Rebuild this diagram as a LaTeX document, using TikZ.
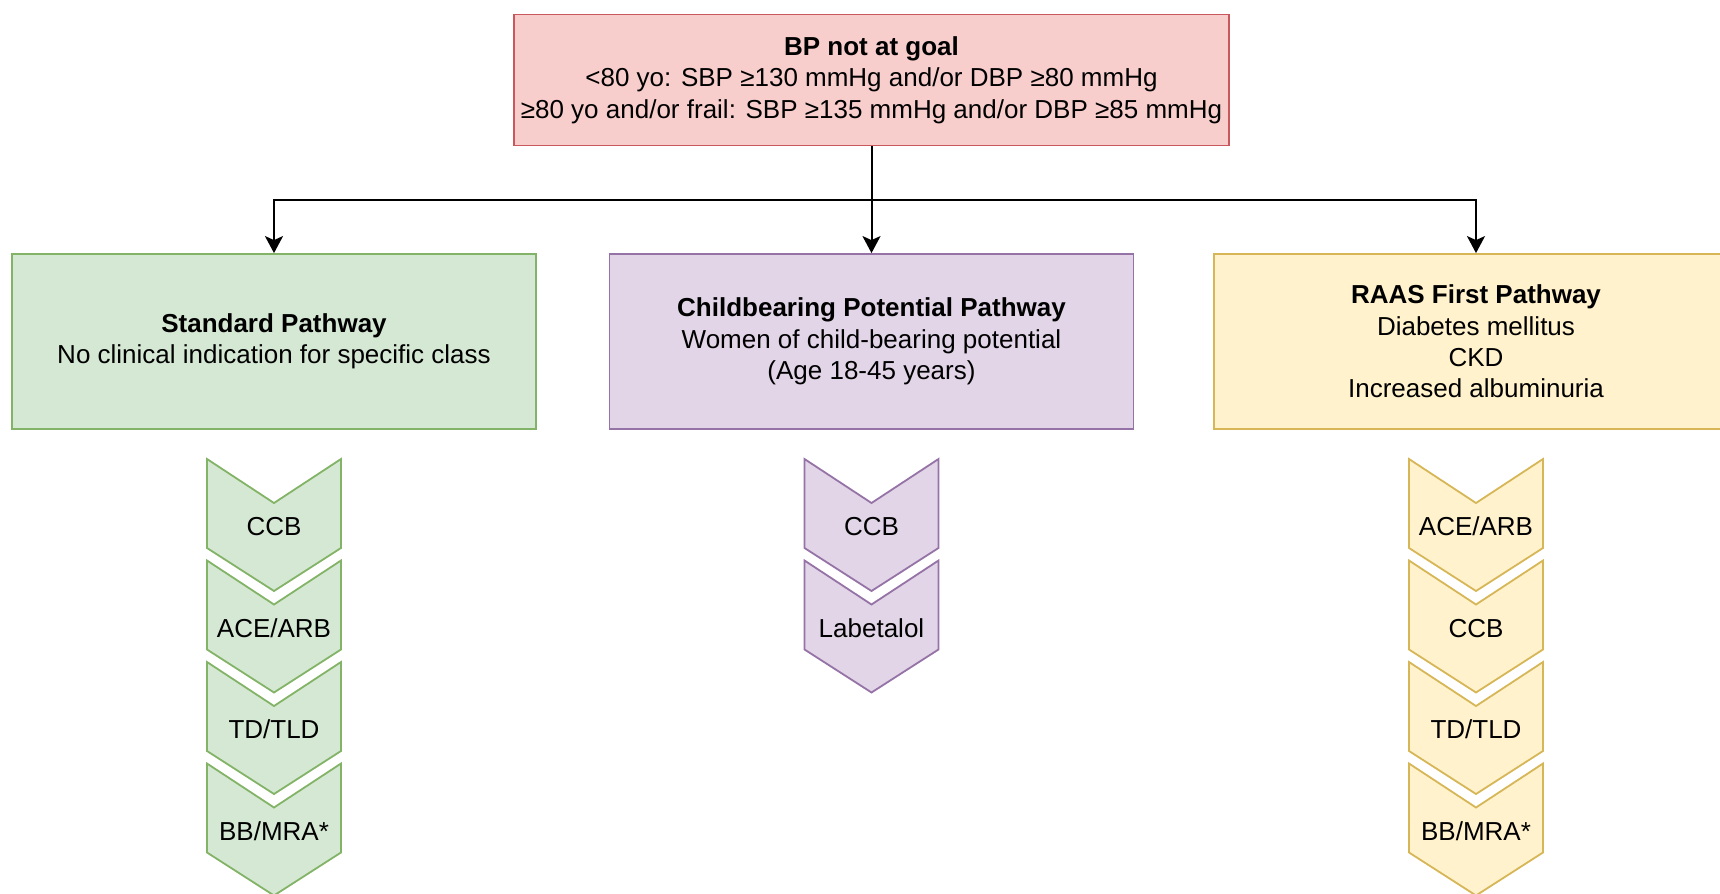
\documentclass[tikz,border=0pt]{standalone}
\usepackage{fontspec}
\setmainfont{Liberation Sans}
\usetikzlibrary{arrows.meta,calc}

\definecolor{goalfill}{HTML}{F8CECC}
\definecolor{goalline}{HTML}{C8585C}
\definecolor{stdfill}{HTML}{D5E8D4}
\definecolor{stdline}{HTML}{82B366}
\definecolor{childfill}{HTML}{E1D5E7}
\definecolor{childline}{HTML}{9673A6}
\definecolor{raasfill}{HTML}{FFF2CC}
\definecolor{raasline}{HTML}{D6B656}

\begin{document}
\begin{tikzpicture}[
    x=0.5pt, y=-0.5pt,
    box/.style={rectangle, draw, line width=0.9pt, align=center, inner sep=0pt, font=\fontsize{13}{15.7}\selectfont},
    pathbox/.style={box, minimum width=262pt, minimum height=87.5pt},
    chevron/.style={line width=0.9pt, line join=miter},
    drug/.style={anchor=base, inner sep=0pt, font=\fontsize{13}{15.7}\selectfont},
    arrow/.style={-{Stealth[length=8.5pt, width=9pt, inset=2pt]}, line width=1pt}
]
\useasboundingbox (0,0) rectangle (1720,894);

\node[box, fill=goalfill, draw=goalline, minimum width=357.5pt, minimum height=65.5pt] (goal) at (871.5,80)
    {\textbf{BP not at goal}\\<80 yo: SBP ≥130 mmHg and/or DBP ≥80 mmHg\\≥80 yo and/or frail: SBP ≥135 mmHg and/or DBP ≥85 mmHg};

\node[pathbox, fill=stdfill, draw=stdline] (std) at (274,341.5)
    {\textbf{Standard Pathway}\\No clinical indication for specific class};
\node[pathbox, fill=childfill, draw=childline] (child) at (871.5,341.5)
    {\textbf{Childbearing Potential Pathway}\\Women of child-bearing potential\\(Age 18-45 years)};
\node[pathbox, fill=raasfill, draw=raasline] (raas) at (1476,341.5)
    {\textbf{RAAS First Pathway}\\Diabetes mellitus\\CKD\\Increased albuminuria};

\coordinate (bus) at (871.5,200);
\draw[line width=1pt] (goal.south) -- (bus);
\draw[arrow] (bus) -| (std.north);
\draw[arrow] (bus) -- (child.north);
\draw[arrow] (bus) -| (raas.north);

\foreach \drugname [count=\i from 0] in {CCB, ACE/ARB, TD/TLD, BB/MRA*} {
    \draw[chevron, fill=stdfill, draw=stdline] (207,459+101.5*\i) -- ++(67,44) -- ++(67,-44) -- ++(0,89) -- ++(-67,43) -- ++(-67,-43) -- cycle;
    \node[drug] (std-\i) at (274,535.5+101.5*\i) {\drugname};
}
\foreach \drugname [count=\i from 0] in {CCB, Labetalol} {
    \draw[chevron, fill=childfill, draw=childline] (804.5,459+101.5*\i) -- ++(67,44) -- ++(67,-44) -- ++(0,89) -- ++(-67,43) -- ++(-67,-43) -- cycle;
    \node[drug] (child-\i) at (871.5,535.5+101.5*\i) {\drugname};
}
\foreach \drugname [count=\i from 0] in {ACE/ARB, CCB, TD/TLD, BB/MRA*} {
    \draw[chevron, fill=raasfill, draw=raasline] (1409,459+101.5*\i) -- ++(67,44) -- ++(67,-44) -- ++(0,89) -- ++(-67,43) -- ++(-67,-43) -- cycle;
    \node[drug] (raas-\i) at (1476,535.5+101.5*\i) {\drugname};
}
\end{tikzpicture}
\end{document}
